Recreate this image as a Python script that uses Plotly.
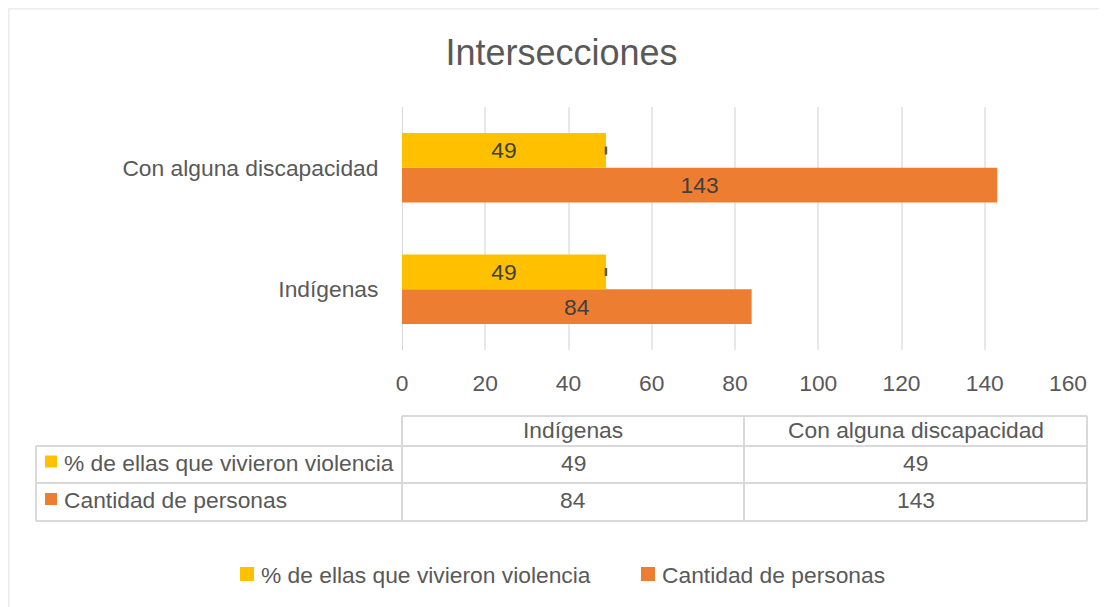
import plotly.graph_objects as go

categories = ["Indígenas", "Con alguna discapacidad"]
series_names = ["% de ellas que vivieron violencia", "Cantidad de personas"]
pct_violencia = [49, 49]
cantidad = [84, 143]
x_ticks = [0, 20, 40, 60, 80, 100, 120, 140, 160]

YELLOW = "#FFC000"
ORANGE = "#ED7D31"
TXT = "#595959"
GRID = "#D9D9D9"
FONT = "Liberation Sans"
FS = 22.8

W, H = 1107, 607
OFF = 8  # page body margin: reference pixel -> figure pixel
PL, PR, PT, PB = 402 - OFF, 1068 - OFF, 107 - OFF, 350 - OFF  # plot area (figure px)


def px(x):
    """reference-page x pixel -> paper coordinate"""
    return (x - OFF - PL) / (PR - PL)


def py(y):
    """reference-page y pixel -> paper coordinate"""
    return (PB - (y - OFF)) / (PB - PT)


fig = go.Figure()
fig.add_trace(go.Bar(
    y=categories, x=cantidad, orientation="h", name=series_names[1],
    marker=dict(color=ORANGE, line=dict(width=0)),
    text=cantidad, textposition="inside", insidetextanchor="middle",
    textfont=dict(color="#404040", size=FS, family=FONT),
))
fig.add_trace(go.Bar(
    y=categories, x=pct_violencia, orientation="h", name=series_names[0],
    marker=dict(color=YELLOW, line=dict(width=0)),
    text=pct_violencia, textposition="inside", insidetextanchor="middle",
    textfont=dict(color="#404040", size=FS, family=FONT),
    error_x=dict(type="data", array=[0, 0], visible=True, color=TXT, thickness=2.5, width=4),
))

shapes = []
annotations = []
line = dict(color=GRID, width=2)

# chart outer border (top and left edges visible)
border = dict(color="#EBEBEB", width=2)
shapes.append(dict(type="line", xref="paper", yref="paper",
                   x0=px(8.5), x1=px(1200), y0=py(8.5), y1=py(8.5), line=border))
shapes.append(dict(type="line", xref="paper", yref="paper",
                   x0=px(8.5), x1=px(8.5), y0=py(8.5), y1=py(700), line=border))

# data table
col_edges = [402, 744, 1087]
row_edges = [416, 446, 483, 521]
label_left = 36
shapes.append(dict(type="line", xref="paper", yref="paper", x0=px(col_edges[0]), x1=px(col_edges[-1]),
                   y0=py(row_edges[0]), y1=py(row_edges[0]), line=line))
for r in row_edges[1:]:
    shapes.append(dict(type="line", xref="paper", yref="paper", x0=px(label_left), x1=px(col_edges[-1]),
                       y0=py(r), y1=py(r), line=line))
for c in col_edges:
    shapes.append(dict(type="line", xref="paper", yref="paper", x0=px(c), x1=px(c),
                       y0=py(row_edges[0]), y1=py(row_edges[-1]), line=line))
shapes.append(dict(type="line", xref="paper", yref="paper", x0=px(label_left), x1=px(label_left),
                   y0=py(row_edges[1]), y1=py(row_edges[-1]), line=line))

font = dict(family=FONT, size=FS, color=TXT)
for i, cat in enumerate(categories):
    cx = (col_edges[i] + col_edges[i + 1]) / 2
    annotations.append(dict(xref="paper", yref="paper", x=px(cx), y=py((row_edges[0] + row_edges[1]) / 2 - 1),
                            text=cat, showarrow=False, font=font, xanchor="center", yanchor="middle"))
rows = [(series_names[0], pct_violencia, YELLOW), (series_names[1], cantidad, ORANGE)]
for j, (name, vals, col) in enumerate(rows):
    cy = (row_edges[j + 1] + row_edges[j + 2]) / 2 - 2
    shapes.append(dict(type="rect", xref="paper", yref="paper", x0=px(45), x1=px(57),
                       y0=py(cy + 5), y1=py(cy - 7), fillcolor=col, line=dict(width=0)))
    annotations.append(dict(xref="paper", yref="paper", x=px(62), y=py(cy), text=name, showarrow=False,
                            font=font, xanchor="left", yanchor="middle"))
    for i, v in enumerate(vals):
        cx = (col_edges[i] + col_edges[i + 1]) / 2
        annotations.append(dict(xref="paper", yref="paper", x=px(cx), y=py(cy), text=str(v), showarrow=False,
                                font=font, xanchor="center", yanchor="middle"))

# legend (drawn manually for Excel-like spacing)
legend_items = [(series_names[0], YELLOW, 240), (series_names[1], ORANGE, 641)]
for name, col, lx in legend_items:
    shapes.append(dict(type="rect", xref="paper", yref="paper", x0=px(lx), x1=px(lx + 14),
                       y0=py(581), y1=py(567), fillcolor=col, line=dict(width=0)))
    annotations.append(dict(xref="paper", yref="paper", x=px(lx + 19), y=py(575), text=name, showarrow=False,
                            font=font, xanchor="left", yanchor="middle"))

fig.update_layout(
    width=W, height=H,
    margin=dict(l=PL, r=W - PR, t=PT, b=H - PB, pad=0),
    paper_bgcolor="white", plot_bgcolor="white",
    font=dict(family=FONT, size=FS, color=TXT),
    title=dict(text="Intersecciones", x=0.5, xref="container", xanchor="center",
               y=1 - (52 - OFF) / H, yanchor="middle", font=dict(size=36, color=TXT, family=FONT)),
    barmode="group", bargap=0.43, bargroupgap=0,
    showlegend=False,
    shapes=shapes, annotations=annotations,
    xaxis=dict(range=[0, 160], tickvals=x_ticks, showgrid=True, gridcolor="#E8E8E8", gridwidth=2,
               zeroline=False, showline=False, ticks="outside", ticklen=13, tickcolor="rgba(0,0,0,0)",
               tickfont=dict(size=FS, color=TXT, family=FONT), fixedrange=True),
    yaxis=dict(type="category", categoryorder="array", categoryarray=categories, range=[-0.5, 1.5],
               showgrid=False, zeroline=False, showline=False,
               ticks="outside", ticklen=18, tickcolor="rgba(0,0,0,0)",
               tickfont=dict(size=FS, color=TXT, family=FONT)),
)
fig.add_shape(type="line", xref="x", yref="paper", x0=0, x1=0, y0=0, y1=1, line=dict(color=GRID, width=2),
              layer="below")

fig.write_html("out.html", config={"displayModeBar": False})
